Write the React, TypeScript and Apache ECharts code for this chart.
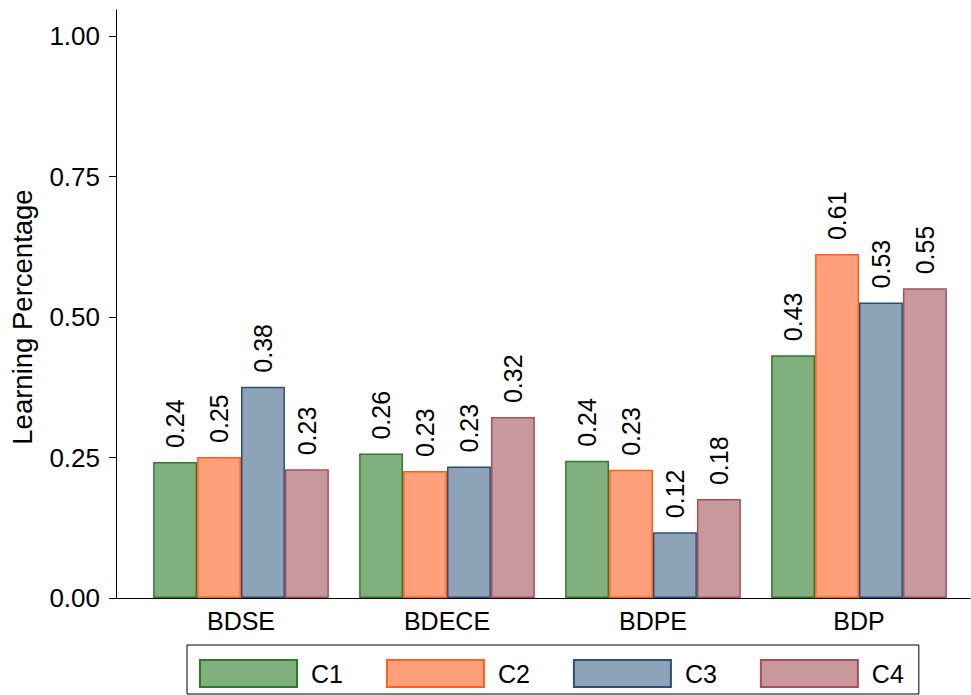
import React, { useEffect, useRef } from "react";
import * as echarts from "echarts";

const categories = ["BDSE", "BDECE", "BDPE", "BDP"];
const seriesNames = ["C1", "C2", "C3", "C4"];
const c1Values = [0.242, 0.257, 0.244, 0.432];
const c2Values = [0.251, 0.226, 0.228, 0.612];
const c3Values = [0.376, 0.234, 0.117, 0.526];
const c4Values = [0.229, 0.322, 0.176, 0.551];
const yTicks = [0, 0.25, 0.5, 0.75, 1.0];

const fills = ["#80b07d", "#ffa07a", "#8ca3b8", "#c8999c"];
const borders = ["#2f7a2a", "#ff5f1f", "#2e4f75", "#a5505c"];

const FONT = "Arial, 'Liberation Sans', sans-serif";

export default function App() {
  const ref = useRef<HTMLDivElement>(null);
  useEffect(() => {
    if (!ref.current) return;
    const chart = echarts.init(ref.current, undefined, { renderer: "svg" });
    const allValues = [c1Values, c2Values, c3Values, c4Values];
    chart.setOption({
      animation: false,
      backgroundColor: "#ffffff",
      textStyle: { fontFamily: FONT, color: "#000" },
      grid: [
        { left: 137, right: 9, top: 36, bottom: 97 },
        { left: 116, right: 1, top: 10, bottom: 97 },
      ],
      legend: {
        data: seriesNames,
        left: 187,
        top: 645,
        orient: "horizontal",
        icon: "rect",
        itemWidth: 97,
        itemHeight: 27,
        itemGap: 43,
        padding: [14, 15, 6, 12],
        borderColor: "#000",
        borderWidth: 1,
        textStyle: { fontSize: 25, color: "#000", fontFamily: FONT, padding: [0, 0, 0, 9] },
      },
      xAxis: [
        {
          type: "category",
          gridIndex: 0,
          data: categories,
          axisLine: { show: false },
          axisTick: { show: false },
          axisLabel: { fontSize: 25, color: "#000", fontFamily: FONT, margin: 10 },
        },
        {
          type: "value",
          gridIndex: 1,
          min: 0,
          max: 1,
          axisLine: { show: true, onZero: false, lineStyle: { color: "#000", width: 1 } },
          axisTick: { show: false },
          axisLabel: { show: false },
          splitLine: { show: false },
        },
      ],
      yAxis: [
        {
          type: "value",
          gridIndex: 0,
          min: yTicks[0],
          max: yTicks[yTicks.length - 1],
          interval: 0.25,
          offset: 21,
          axisLine: { show: false },
          axisTick: { show: true, length: 8, lineStyle: { color: "#000" } },
          axisLabel: {
            fontSize: 26,
            color: "#000",
            fontFamily: FONT,
            margin: 17,
            formatter: (v: number) => v.toFixed(2),
          },
          splitLine: { show: false },
          name: "Learning Percentage",
          nameLocation: "middle",
          nameGap: 81,
          nameRotate: 90,
          nameTextStyle: { fontSize: 27.5, color: "#000", fontFamily: FONT },
        },
        {
          type: "value",
          gridIndex: 1,
          min: 0,
          max: 1,
          axisLine: { show: true, onZero: false, lineStyle: { color: "#000", width: 1 } },
          axisTick: { show: false },
          axisLabel: { show: false },
          splitLine: { show: false },
        },
      ],
      series: seriesNames.map((name, i) => ({
        name,
        type: "bar",
        xAxisIndex: 0,
        yAxisIndex: 0,
        data: allValues[i],
        barGap: "0%",
        barCategoryGap: "14.7%",
        itemStyle: { color: fills[i], borderColor: borders[i], borderWidth: 1.5 },
        label: {
          show: true,
          position: "top",
          rotate: 90,
          align: "left",
          verticalAlign: "middle",
          distance: 14,
          fontSize: 25,
          color: "#000",
          fontFamily: FONT,
          formatter: (p: any) => Number(p.value).toFixed(2),
        },
      })),
    });
    return () => chart.dispose();
  }, []);
  return (
    <div
      ref={ref}
      style={{ position: "fixed", left: 0, top: 0, width: 971, height: 695, background: "#fff" }}
    />
  );
}
